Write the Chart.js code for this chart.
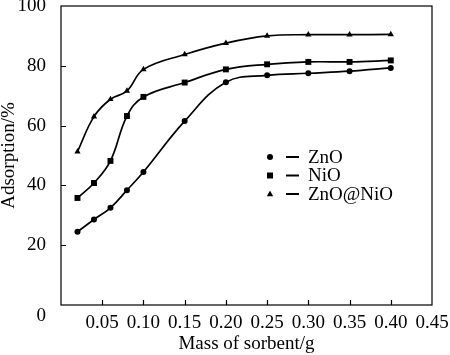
<!DOCTYPE html>
<html><head><meta charset="utf-8">
<script src="https://cdn.jsdelivr.net/npm/chart.js@4/dist/chart.umd.min.js"></script>
<style>html,body{margin:0;padding:0;background:#fff}</style>
</head><body>
<canvas id="c" width="450" height="355" style="width:450px;height:355px;display:block"></canvas>
<script>
const masses = [0.02, 0.04, 0.06, 0.08, 0.10, 0.15, 0.20, 0.25, 0.30, 0.35, 0.40];
const znoValues = [24.5, 28.6, 32.5, 38.4, 44.5, 61.5, 74.5, 76.8, 77.5, 78.2, 79.3];
const nioValues = [35.8, 40.8, 48.2, 63.2, 69.6, 74.4, 78.8, 80.5, 81.3, 81.3, 81.8];
const znoNioValues = [51.3, 63.0, 68.8, 71.6, 78.8, 83.8, 87.6, 90.0, 90.4, 90.4, 90.5];
const seriesNames = ['ZnO', 'NiO', 'ZnO@NiO'];
const xTickValues = [0.05, 0.10, 0.15, 0.20, 0.25, 0.30, 0.35, 0.40, 0.45];
const yTickValues = [0, 20, 40, 60, 80, 100];

const FONT = 'Liberation Serif, Times New Roman, serif';
const pts = (vals) => masses.map((m, i) => ({x: m, y: vals[i]}));

function ds(label, vals, style, r) {
  return {
    label, data: pts(vals), borderColor: '#000', backgroundColor: '#000',
    borderWidth: 1.7, pointStyle: style, pointRadius: r, pointHoverRadius: r,
    pointBorderWidth: 0, tension: 0.4, fill: false
  };
}

function drawMarker(ctx, style, x, y) {
  ctx.beginPath();
  if (style === 'circle') { ctx.arc(x, y, 3, 0, Math.PI * 2); }
  else if (style === 'rect') { ctx.rect(x - 3, y - 3, 6, 6); }
  else { ctx.moveTo(x, y - 3.5); ctx.lineTo(x + 3.2, y + 2.2); ctx.lineTo(x - 3.2, y + 2.2); ctx.closePath(); }
  ctx.fill();
}

const framePlugin = {
  id: 'frame',
  afterDraw(chart) {
    const {ctx, chartArea: a, scales} = chart;
    ctx.save();
    ctx.strokeStyle = '#000';
    ctx.lineWidth = 1.2;
    ctx.strokeRect(a.left, a.top, a.right - a.left, a.bottom - a.top);
    ctx.beginPath();
    xTickValues.forEach(v => {
      if (v >= scales.x.max - 1e-9) return;
      const px = Math.round(scales.x.getPixelForValue(v)) + 0.5;
      ctx.moveTo(px, a.bottom); ctx.lineTo(px, a.bottom - 5);
    });
    yTickValues.forEach(v => {
      if (v <= scales.y.min || v >= scales.y.max) return;
      const py = Math.round(scales.y.getPixelForValue(v)) + 0.5;
      ctx.moveTo(a.left, py); ctx.lineTo(a.left + 5, py);
    });
    ctx.stroke();
    // legend
    const styles = ['circle', 'rect', 'triangle'];
    const rows = [157, 175.5, 194];
    ctx.fillStyle = '#000';
    ctx.font = '19px ' + FONT;
    ctx.textBaseline = 'middle';
    ctx.textAlign = 'left';
    chart.data.datasets.forEach((d, i) => {
      const y = rows[i];
      drawMarker(ctx, styles[i], 270, y);
      ctx.beginPath();
      ctx.lineWidth = 2;
      ctx.moveTo(286, y); ctx.lineTo(299, y);
      ctx.stroke();
      ctx.fillText(d.label, 308, y + 1);
    });
    ctx.restore();
  }
};

new Chart(document.getElementById('c'), {
  type: 'line',
  data: {
    datasets: [
      ds(seriesNames[0], znoValues, 'circle', 3),
      ds(seriesNames[1], nioValues, 'rect', 4.2),
      ds(seriesNames[2], znoNioValues, 'triangle', 3.6)
    ]
  },
  options: {
    responsive: false,
    devicePixelRatio: 1,
    animation: false,
    layout: {padding: {top: 6, right: 18, left: 0, bottom: 0}},
    plugins: {legend: {display: false}, tooltip: {enabled: false}},
    scales: {
      x: {
        type: 'linear', min: 0, max: 0.45,
        afterBuildTicks: (s) => { s.ticks = [0].concat(xTickValues).map(v => ({value: v})); },
        afterFit: (s) => { s.height = 50; s.paddingLeft = 0; s.paddingRight = 0; },
        grid: {display: false},
        border: {display: false},
        ticks: {
          color: '#000', font: {family: FONT, size: 19}, padding: -1, maxRotation: 0, autoSkip: false,
          callback: (v) => v === 0 ? '' : Number(v).toFixed(2)
        },
        title: {display: true, text: 'Mass of sorbent/g', color: '#000',
          font: {family: FONT, size: 19}, padding: {top: 0, bottom: 0}}
      },
      y: {
        min: 0, max: 100,
        afterBuildTicks: (s) => { s.ticks = yTickValues.map(v => ({value: v})); },
        afterFit: (s) => { s.width = 61; s.paddingTop = 0; s.paddingBottom = 0; },
        grid: {display: false},
        border: {display: false},
        ticks: {color: '#000', font: {family: FONT, size: 19}, padding: 7,
          callback: (v) => v === 0 ? ['', '0'] : String(v)},
        title: {display: true, text: 'Adsorption/%', color: '#000',
          font: {family: FONT, size: 19, lineHeight: 1.0}, padding: {top: 0, bottom: 0}}
      }
    }
  },
  plugins: [framePlugin]
});
</script>
</body></html>
